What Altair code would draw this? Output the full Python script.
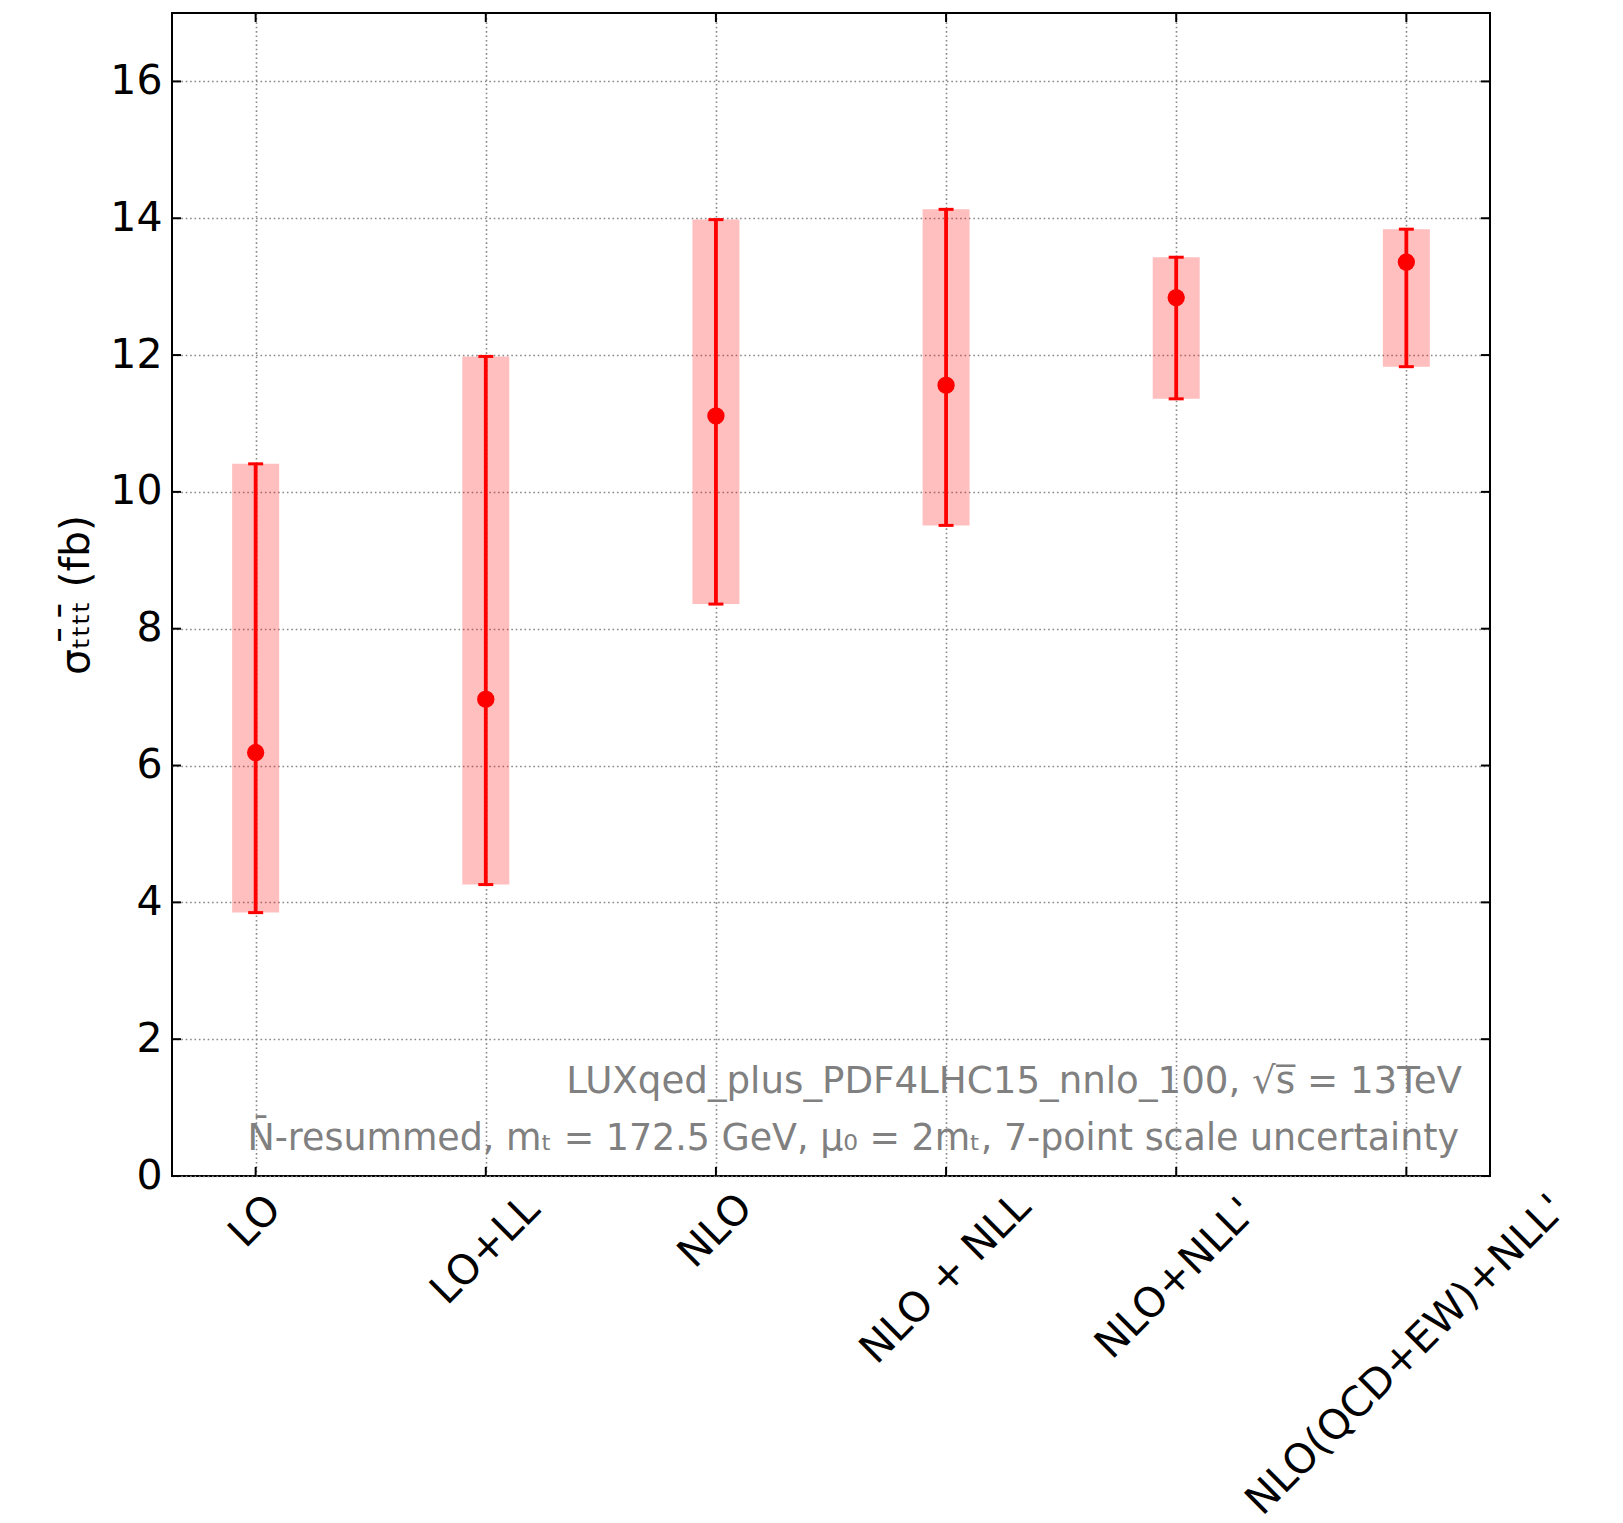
import altair as alt
import pandas as pd

# ---- data ----
categories = ["LO", "LO+LL", "NLO", "NLO + NLL", "NLO+NLL'", "NLO(QCD+EW)+NLL'"]
central = [6.19, 6.97, 11.11, 11.56, 12.84, 13.36]
lower = [3.85, 4.26, 8.36, 9.51, 11.36, 11.83]
upper = [10.41, 11.98, 13.98, 14.13, 13.43, 13.84]
y_tick_values = [0, 2, 4, 6, 8, 10, 12, 14, 16]
y_domain = [0, 17]
x_domain = [-0.3635, 5.3635]

y_title = "σₜₜ̄ₜₜ̄ (fb)"
note_line1 = "LUXqed_plus_PDF4LHC15_nnlo_100, √s̅ = 13TeV"
note_line2 = "N̄-resummed, mₜ = 172.5 GeV, μ₀ = 2mₜ, 7-point scale uncertainty"

# ---- layout ----
W, H = 1318, 1163
FONT = "DejaVu Sans"
FS = 41

df = pd.DataFrame({
    "label": categories,
    "idx": list(range(len(categories))),
    "central": central,
    "lower": lower,
    "upper": upper,
})
ticks_df = pd.DataFrame({"v": y_tick_values})

x_scale = alt.Scale(domain=x_domain, nice=False, zero=False)
y_scale = alt.Scale(domain=y_domain, nice=False, zero=False)
x_axis = alt.Axis(values=list(range(len(categories))), labels=False, ticks=False,
                  domain=False, grid=True, title=None)
y_axis = alt.Axis(values=y_tick_values, ticks=False, domain=False, grid=True,
                  labelFontSize=FS, labelFont=FONT, labelPadding=10, labelColor="black",
                  title=y_title, titleFontSize=FS, titleFont=FONT, titleFontWeight="normal",
                  titleColor="black", titlePadding=12)


def X(field="idx:Q"):
    return alt.X(field, scale=x_scale, axis=x_axis)


def Y(field):
    return alt.Y(field, scale=y_scale, axis=y_axis)


band = alt.Chart(df).mark_rule(color="red", strokeWidth=47, opacity=0.25, strokeCap="butt").encode(
    x=X(), y=Y("lower:Q"), y2="upper:Q")

err = alt.Chart(df).mark_rule(color="red", strokeWidth=3.8).encode(
    x=X(), y=Y("lower:Q"), y2="upper:Q")

cap_lo = alt.Chart(df).mark_tick(color="red", orient="horizontal", size=15, thickness=3, opacity=1).encode(
    x=X(), y=Y("lower:Q"))
cap_hi = alt.Chart(df).mark_tick(color="red", orient="horizontal", size=15, thickness=3, opacity=1).encode(
    x=X(), y=Y("upper:Q"))

points = alt.Chart(df).mark_circle(color="red", size=300, opacity=1).encode(
    x=X(), y=Y("central:Q"))

# inward ticks on all four sides
left_ticks = alt.Chart(ticks_df).mark_rule(color="black", strokeWidth=2).encode(
    y=Y("v:Q"), x=alt.value(0), x2=alt.value(9))
right_ticks = alt.Chart(ticks_df).mark_rule(color="black", strokeWidth=2).encode(
    y=Y("v:Q"), x=alt.value(W - 9), x2=alt.value(W))
bottom_ticks = alt.Chart(df).mark_rule(color="black", strokeWidth=2).encode(
    x=X(), y=alt.value(H - 9), y2=alt.value(H))
top_ticks = alt.Chart(df).mark_rule(color="black", strokeWidth=2).encode(
    x=X(), y=alt.value(0), y2=alt.value(9))

# rotated category labels, centred under each tick (matplotlib rotation=45, ha=center)
labels = alt.Chart(df).transform_calculate(
    nsp="length(split(datum.label, ' ')) - 1"
).transform_calculate(
    ext=f"((length(datum.label) - datum.nsp * 0.52) * 0.66 * {FS} + 30) * 0.7071"
).transform_calculate(
    ly=f"-(16 + datum.ext / 2) * {y_domain[1]} / {H}"
).mark_text(angle=315, align="center", baseline="middle", fontSize=FS, font=FONT,
            color="black").encode(
    x=X(), y=Y("ly:Q"), text="label:N")

note1 = alt.Chart(pd.DataFrame({"t": [note_line1]})).mark_text(
    align="right", baseline="alphabetic", fontSize=37.2, font=FONT, color="#808080").encode(
    text="t:N", x=alt.value(1290), y=alt.value(1080))
note2 = alt.Chart(pd.DataFrame({"t": [note_line2]})).mark_text(
    align="right", baseline="alphabetic", fontSize=36.4, font=FONT, color="#808080").encode(
    text="t:N", x=alt.value(1287), y=alt.value(1137))

chart = alt.layer(
    band, err, cap_lo, cap_hi, points,
    left_ticks, right_ticks, bottom_ticks, top_ticks,
    labels, note1, note2,
).properties(
    width=W, height=H,
    padding={"left": 172, "top": 13, "right": 133, "bottom": 347},
    autosize=alt.AutoSizeParams(type="none"),
    background="white",
).configure_view(
    stroke="black", strokeWidth=2
).configure_axis(
    gridColor="#888888", gridDash=[1.6, 2.8], gridWidth=1.6, gridOpacity=1
)

chart.save("out.html", embed_options={"renderer": "svg", "actions": False})
